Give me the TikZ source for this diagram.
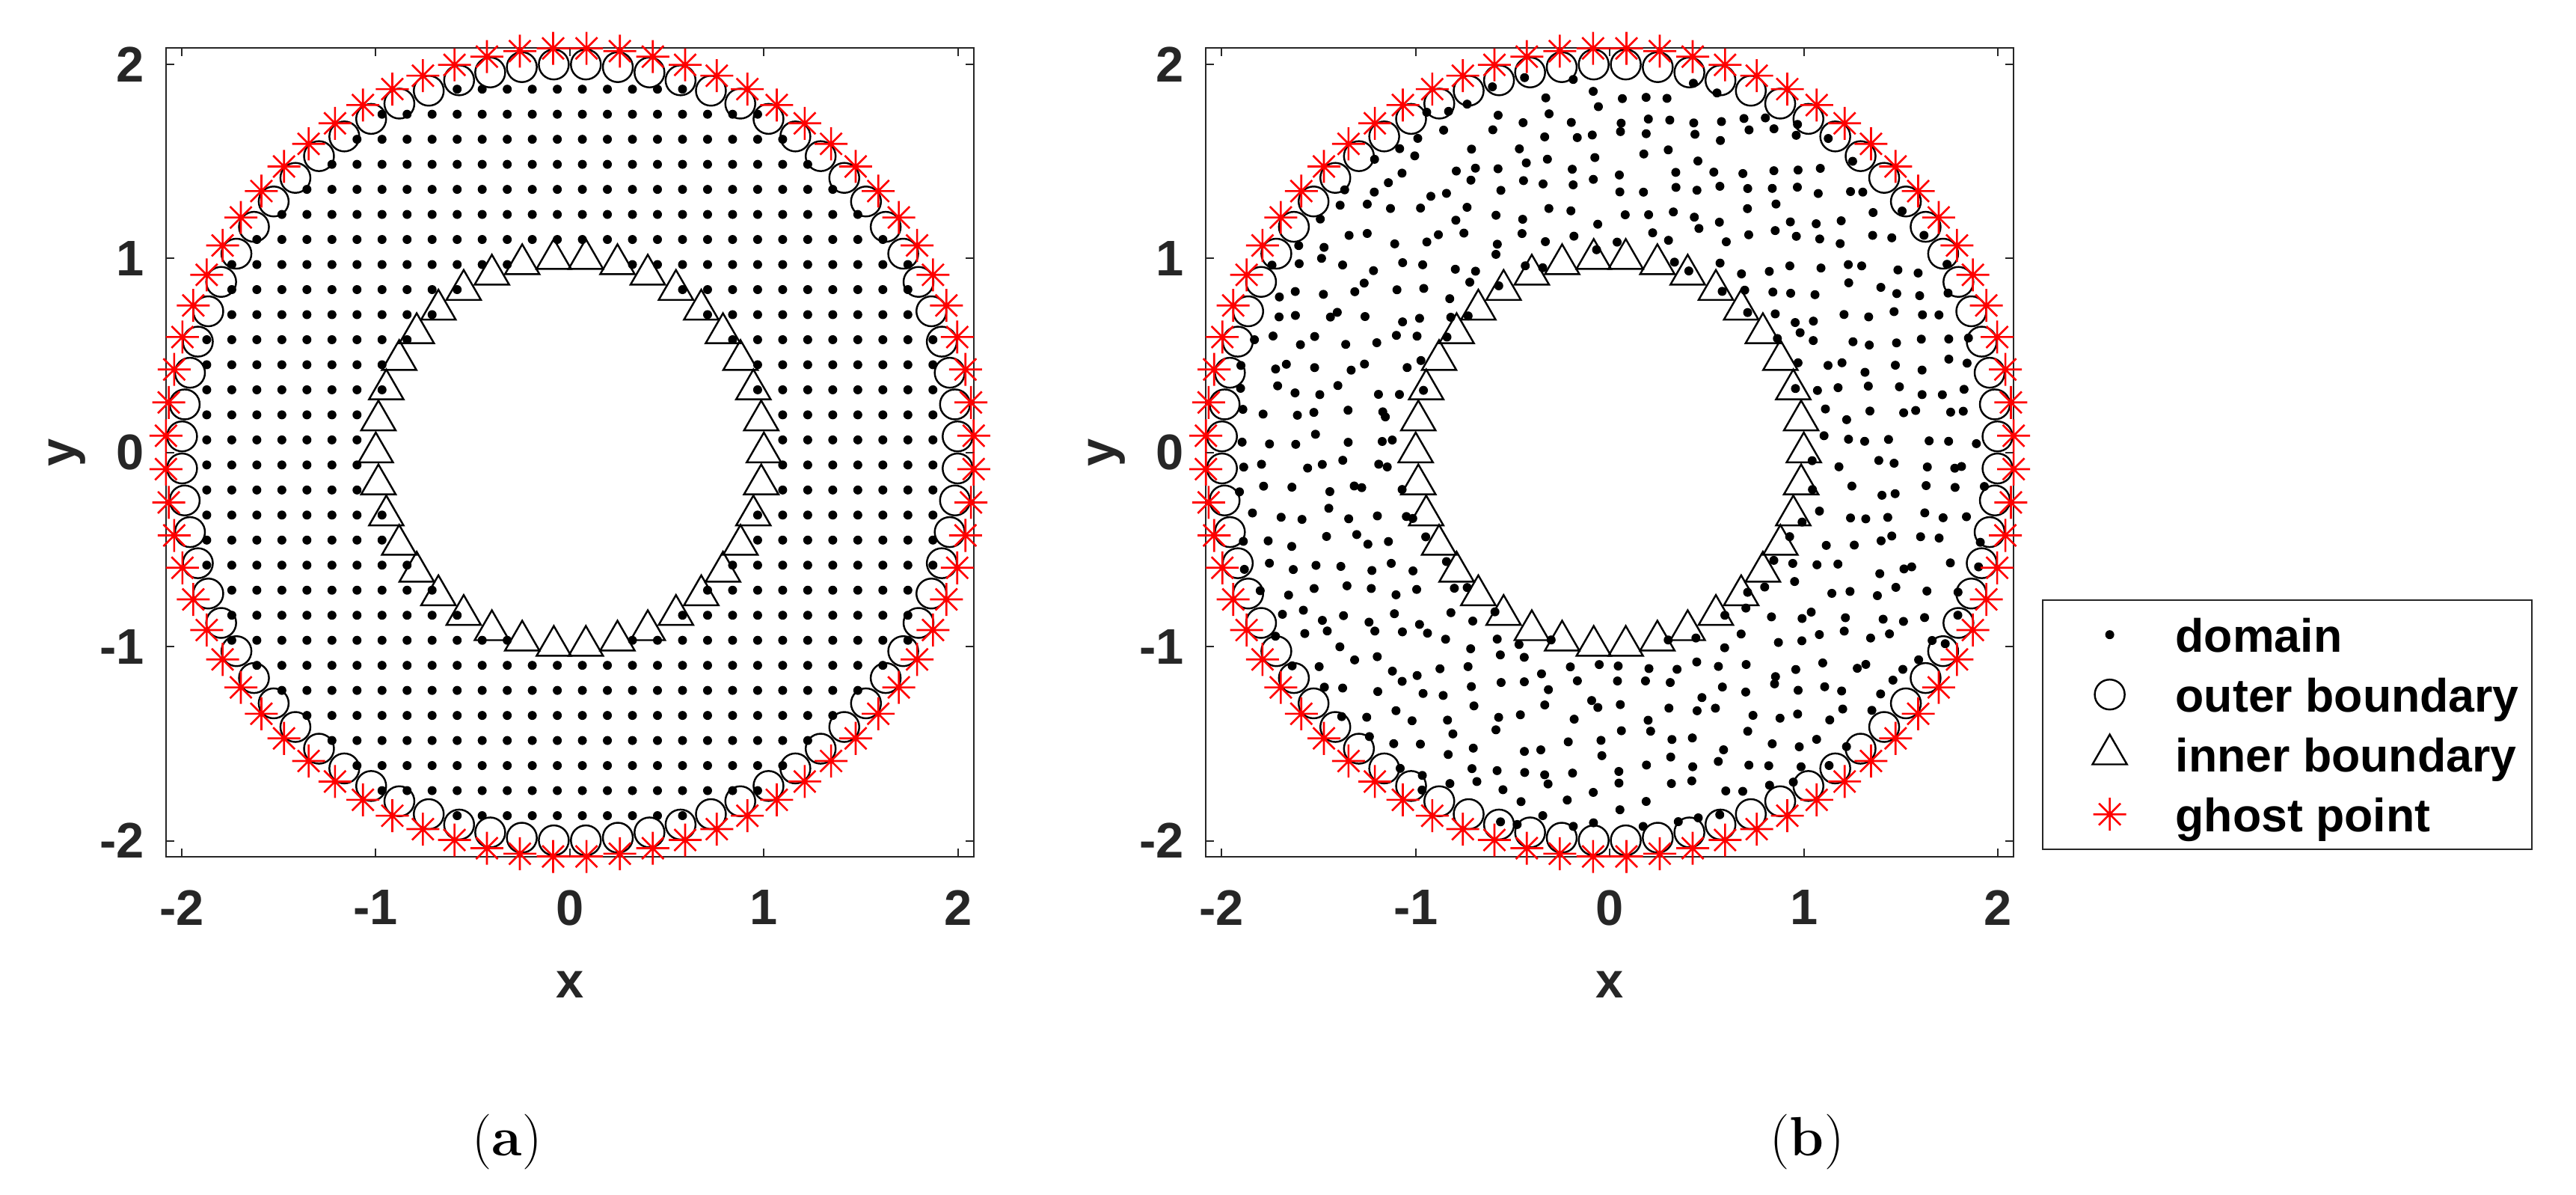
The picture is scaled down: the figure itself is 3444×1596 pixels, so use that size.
\documentclass[tikz,border=0pt]{standalone}
\usepackage{fontspec}
\newfontfamily\axfont{Liberation Sans}
\definecolor{axgray}{RGB}{38,38,38}
\newcommand\axlim{2.0825}
\newcommand\ticklen{0.11cm}
\tikzset{
  axisline/.style={draw=axgray, line width=0.57pt},
  domdot/.style={fill=black},
  mk/.style={draw=black, line width=0.7pt},
  ghostline/.style={draw=red, line width=0.75pt},
  ticklab/.style={font=\axfont\bfseries\fontsize{19}{22}\selectfont, text=axgray, inner sep=0pt},
  leglab/.style={font=\axfont\bfseries\fontsize{17.8}{21}\selectfont, text=black, inner sep=0pt, anchor=base west},
  caplab/.style={font=\fontsize{21}{25}\selectfont, inner sep=0pt},
  pics/domm/.style={code={\fill[domdot] (0,0) circle[radius=0.06cm];}},
  pics/outerm/.style={code={\draw[mk] (0,0) circle[radius=0.2cm];}},
  pics/innerm/.style={code={\draw[mk] (90:0.266cm) -- (210:0.266cm) -- (330:0.266cm) -- cycle;}},
  pics/ghostm/.style={code={\draw[ghostline] (-0.22cm,0) -- (0.22cm,0) (0,-0.22cm) -- (0,0.22cm)
      (-0.145cm,-0.145cm) -- (0.145cm,0.145cm) (-0.145cm,0.145cm) -- (0.145cm,-0.145cm);}}
}
\newcommand\plotframe[1]{%
  \draw[axisline] (-\axlim,-\axlim) rectangle (\axlim,\axlim);
  \foreach \t/\n in {-2/m2,-1/m1,0/z,1/p1,2/p2}{%
    \draw[axisline] (\t,-\axlim) -- ++(0,\ticklen) (\t,\axlim) -- ++(0,-\ticklen)
      (-\axlim,\t) -- ++(\ticklen,0) (\axlim,\t) -- ++(-\ticklen,0);
    \node[ticklab,anchor=north,yshift=-0.44cm] (#1x\n) at (\t,-\axlim) {\t};
    \node[ticklab,anchor=east,xshift=-0.28cm] (#1y\n) at (-\axlim,\t) {\t};
  }
  \node[ticklab] (#1xlab) at (0,-2.741) {x};
  \node[ticklab,rotate=90] (#1ylab) at (-2.591,0) {y};
}
\newcommand\boundarymarks{%
  \foreach \k in {0,...,75} \pic at ({4.736842*(\k+0.5)}:2) {outerm};
  \foreach \k in {0,...,37} \pic at ({9.473684*\k}:1) {innerm};
  \foreach \k in {0,...,75} \pic at ({4.736842*(\k+0.5)}:2.083) {ghostm};
}
\begin{document}
\begin{tikzpicture}[x=0.01cm,y=0.01cm]
\useasboundingbox (0,0) rectangle (3444,1596);
% ---------- plot (a)
\begin{scope}[shift={(7.614cm,9.908cm)}, x=2.593cm, y=2.593cm]
  \plotframe{a}
  \foreach \p in {-31,-29,...,31}{\foreach \q in {-31,-29,...,31}{%
    \ifnum\numexpr\p*\p+\q*\q\relax>240 \ifnum\numexpr\p*\p+\q*\q\relax<961
      \fill[domdot] ({\p*2/31},{\q*2/31}) circle[radius=0.06cm];
    \fi\fi
  }}
  \boundarymarks
\end{scope}
% ---------- plot (b)
\begin{scope}[shift={(21.509cm,9.908cm)}, x=2.593cm, y=2.593cm]
  \plotframe{b}
  \pgfmathsetseed{4242}
  \foreach \p in {-31,-29,...,31}{\foreach \q in {-31,-29,...,31}{%
    \ifnum\numexpr\p*\p+\q*\q\relax>240 \ifnum\numexpr\p*\p+\q*\q\relax<961
      \pgfmathsetmacro\rr{sqrt(\p*\p+\q*\q)*2/31}
      \pgfmathsetmacro\th{atan2(\q,\p)}
      \pgfmathsetmacro\rn{max(1.012,min(1.99,\rr+0.058*rand))}
      \pgfmathsetmacro\tn{\th+1.6*rand/\rn}
      \fill[domdot] (\tn:\rn) circle[radius=0.06cm];
    \fi\fi
  }}
  \boundarymarks
\end{scope}
% ---------- legend
\draw[axisline] (2731,794) rectangle (3385,461.3);
\pic at (2820.6,747.8) {domm};
\pic at (2820.6,667.8) {outerm};
\pic at (2820.6,587.8) {innerm};
\pic at (2820.6,507.8) {ghostm};
\node[leglab] (l1) at (2908,724.3) {domain};
\node[leglab] (l2) at (2908,644.3) {outer boundary};
\node[leglab] (l3) at (2908,564.3) {inner boundary};
\node[leglab] (l4) at (2908,484.3) {ghost point};
% ---------- captions
\node[caplab] (capa) at (678,70) {(\textbf{a})};
\node[caplab] (capb) at (2416,70) {(\textbf{b})};
\end{tikzpicture}
\end{document}
